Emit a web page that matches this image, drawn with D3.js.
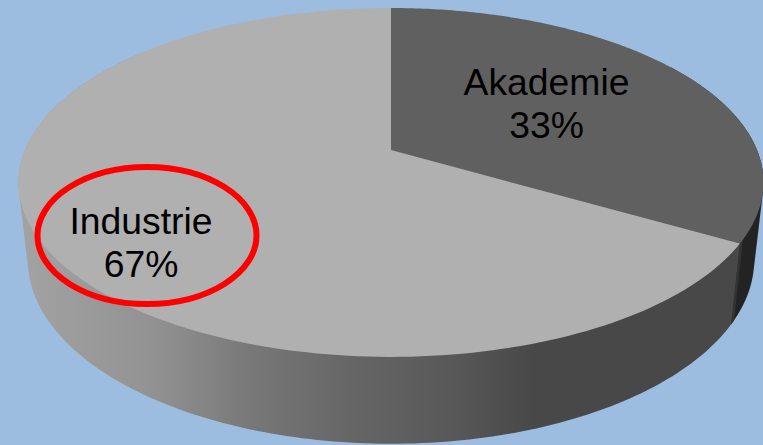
<!DOCTYPE html>
<html>
<head>
<meta charset="utf-8">
<script src="https://cdn.jsdelivr.net/npm/d3@7"></script>
<style>
html,body{margin:0;padding:0;background:#9cbde0;overflow:hidden}
svg{display:block}
text{font-family:"Liberation Sans",Arial,sans-serif;font-size:37.3px;fill:#000;text-anchor:middle}
</style>
</head>
<body>
<svg id="chart" width="763" height="445"></svg>
<script>
const categories = ["Akademie", "Industrie"];
const shares = [33.4, 66.6];
const topColors = ["#606060", "#b0b0b0"];
const labelX = [546.5, 141];
const labelY = [95, 234];
const wallStops = [[0, "#a2a2a2"], [0.25, "#929292"], [0.45, "#777777"], [0.64, "#666666"], [0.84, "#585858"], [1, "#484848"]];

const W = 763, H = 445;
// perspective model of the disc
const cx = 391, apexTop = 150, apexBottom = 225.7;
const B = 366, A = 168.4, k = -0.186, bottomScaleX = 0.975, bottomScaleY = 1.054;

const svg = d3.select("#chart");
svg.append("rect").attr("width", W).attr("height", H).attr("fill", "#9cbde0");

const grad = svg.append("defs").append("linearGradient")
  .attr("id", "wall").attr("gradientUnits", "userSpaceOnUse")
  .attr("x1", 25).attr("x2", 535).attr("y1", 0).attr("y2", 0);
wallStops.forEach(s => grad.append("stop").attr("offset", s[0]).attr("stop-color", s[1]));

function project(theta, level) {
  const u = Math.sin(theta), v = -Math.cos(theta), d = 1 + k * v;
  const sx = level === 0 ? 1 : bottomScaleX;
  const sy = level === 0 ? 1 : bottomScaleY;
  const y0 = level === 0 ? apexTop : apexBottom;
  return [cx + sx * B * u / d, y0 + sy * A * v / d];
}
const line = d3.line();
const steps = (a, b) => d3.range(0, 181).map(i => a + (b - a) * i / 180);

const arcs = d3.pie().sort(null)(shares);

// side walls: convex hull of the rim of the top and bottom discs over an angle range
const wallG = svg.append("g");
const a0 = arcs[0], a1 = arcs[1];
function wallPath(a, b) {
  const t = steps(a, b);
  const hull = d3.polygonHull(t.map(x => project(x, 0)).concat(t.map(x => project(x, 1))));
  return line(hull) + "Z";
}
wallG.append("path").attr("d", wallPath(a0.startAngle + 1, a0.endAngle)).attr("fill", "#232323");
wallG.append("path").attr("d", wallPath(a0.endAngle - 0.022, a0.endAngle)).attr("fill", "#333333");
wallG.append("path").attr("d", wallPath(a1.startAngle, a1.endAngle * 0.86)).attr("fill", "url(#wall)");

// top faces
svg.append("g").selectAll("path").data(arcs).join("path")
  .attr("d", d => {
    const pts = steps(d.startAngle, d.endAngle).map(x => project(x, 0));
    return line([[cx, apexTop]].concat(pts)) + "Z";
  })
  .attr("fill", (d, i) => topColors[i]);

// labels
const lab = svg.append("g").selectAll("text").data(categories).join("text")
  .attr("transform", (d, i) => `translate(${labelX[i]},${labelY[i]})`);
lab.append("tspan").attr("x", 0).attr("y", 0).text(d => d);
lab.append("tspan").attr("x", 0).attr("y", 43).text((d, i) => Math.round(shares[i]) + "%");

// highlight ring
svg.append("ellipse").attr("cx", 147).attr("cy", 235.5).attr("rx", 109.5).attr("ry", 68.5)
  .attr("fill", "none").attr("stroke", "#ff0000").attr("stroke-width", 6);
</script>
</body>
</html>
